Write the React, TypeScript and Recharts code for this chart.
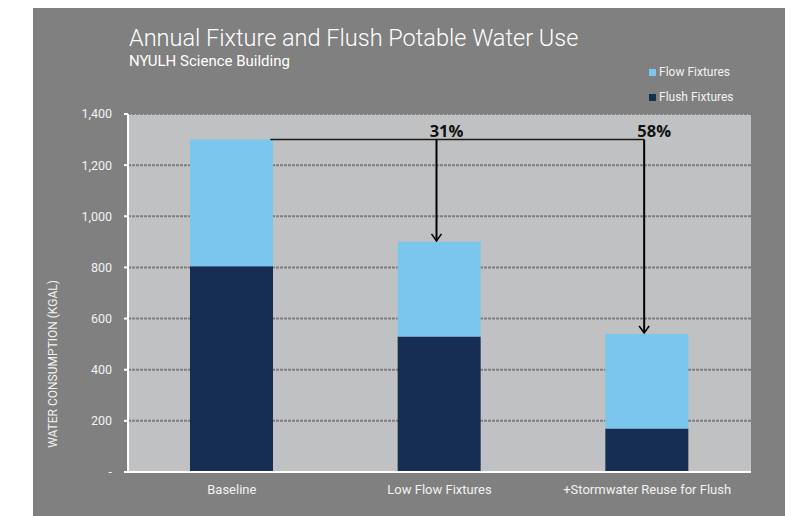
import { BarChart, Bar, XAxis, YAxis, CartesianGrid, ReferenceLine } from "recharts";

const categories = ["Baseline", "Low Flow Fixtures", "+Stormwater Reuse for Flush"];
const flushFixtures = [805, 530, 170];
const flowFixtures = [495, 370, 370];
const yTicks = [0, 200, 400, 600, 800, 1000, 1200, 1400];

const data = categories.map((name, i) => ({
  name,
  flush: flushFixtures[i],
  flow: flowFixtures[i],
  total: flushFixtures[i] + flowFixtures[i],
}));

const baselineTotal = data[0].total;
const savings = (total: number) => `${Math.round((1 - total / baselineTotal) * 100)}%`;

const FONT = "Roboto, 'Liberation Sans', sans-serif";
const BAR_SIZE = 83;

// vertical arrow dropping from the baseline level onto a bar, with the savings label above
const dropArrow = (text: string) => (props: any) => {
  const { x1, y1, y2 } = props;
  const x = x1 - 3;
  return (
    <g>
      <line x1={x} y1={y1} x2={x} y2={y2 - 1} stroke="#000" strokeWidth={2} />
      <polyline
        points={`${x - 5},${y2 - 8} ${x},${y2 - 1} ${x + 5},${y2 - 8}`}
        fill="none"
        stroke="#000"
        strokeWidth={1.6}
      />
      <text x={x + 10} y={y1 - 3} textAnchor="middle" fontFamily="'Open Sans', sans-serif" fontWeight={700} fontSize={16.5} fill="#111">
        {text}
      </text>
    </g>
  );
};

const levelLine = (props: any) => {
  const { x1, y1, x2, y2 } = props;
  return <line x1={x1 + BAR_SIZE / 2 - 3} y1={y1} x2={x2 - 3} y2={y2} stroke="#1a1a1a" strokeWidth={1.6} />;
};

const legendItems = [
  { label: "Flow Fixtures", color: "#7ac6ec" },
  { label: "Flush Fixtures", color: "#162e52" },
];

export default function App() {
  return (
    <div style={{ position: "relative", width: 791, height: 508 }}>
      <div style={{ position: "absolute", left: 25, top: 0, width: 752, height: 508, background: "#808080" }} />
      <div style={{ position: "absolute", left: 121, top: 16, fontFamily: FONT, color: "#fff" }}>
        <div style={{ fontSize: 23.5, fontWeight: 300, lineHeight: "28px" }}>Annual Fixture and Flush Potable Water Use</div>
        <div style={{ fontSize: 15, lineHeight: "18px" }}>NYULH Science Building</div>
      </div>
      <div
        style={{
          position: "absolute",
          left: 44.5,
          top: 356,
          transform: "translate(-50%, -50%) rotate(-90deg)",
          whiteSpace: "nowrap",
          fontFamily: FONT,
          fontSize: 12,
          color: "#f2f2f2",
        }}
      >
        WATER CONSUMPTION (KGAL)
      </div>
      <div style={{ position: "absolute", left: 641, top: 51.5, fontFamily: FONT, fontSize: 12, color: "#f2f2f2" }}>
        {legendItems.map((d) => (
          <div key={d.label} style={{ display: "flex", alignItems: "center", height: 25 }}>
            <span style={{ width: 7, height: 7, background: d.color, marginRight: 3 }} />
            {d.label}
          </div>
        ))}
      </div>
      <BarChart
        width={791}
        height={508}
        data={data}
        margin={{ top: 106, right: 48, bottom: 14, left: 60 }}
        style={{ position: "absolute", left: 0, top: 0 }}
      >
        <CartesianGrid vertical={false} fill="#c0c1c3" stroke="#7f7f7f" strokeWidth={2} strokeDasharray="3 1" />
        <XAxis
          dataKey="name"
          axisLine={{ stroke: "#fff", strokeWidth: 2 }}
          tickLine={false}
          tickSize={0}
          tickMargin={13}
          height={30}
          tick={{ fill: "#f2f2f2", fontSize: 13, fontFamily: FONT }}
        />
        <YAxis
          domain={[0, 1400]}
          ticks={yTicks}
          width={60}
          axisLine={{ stroke: "#fff", strokeWidth: 2 }}
          tickLine={{ stroke: "#fff", strokeWidth: 2 }}
          tickSize={4}
          tickMargin={12}
          tickFormatter={(v: number) => (v === 0 ? "-" : v.toLocaleString("en-US"))}
          tick={{ fill: "#f2f2f2", fontSize: 12.5, fontFamily: FONT }}
        />
        <Bar dataKey="flush" name="Flush Fixtures" stackId="a" fill="#162e52" barSize={BAR_SIZE} isAnimationActive={false} />
        <Bar dataKey="flow" name="Flow Fixtures" stackId="a" fill="#7ac6ec" barSize={BAR_SIZE} isAnimationActive={false} />
        <ReferenceLine
          segment={[
            { x: categories[0], y: baselineTotal },
            { x: categories[2], y: baselineTotal },
          ]}
          shape={levelLine}
        />
        <ReferenceLine
          segment={[
            { x: categories[1], y: baselineTotal },
            { x: categories[1], y: data[1].total },
          ]}
          shape={dropArrow(savings(data[1].total))}
        />
        <ReferenceLine
          segment={[
            { x: categories[2], y: baselineTotal },
            { x: categories[2], y: data[2].total },
          ]}
          shape={dropArrow(savings(data[2].total))}
        />
      </BarChart>
    </div>
  );
}
